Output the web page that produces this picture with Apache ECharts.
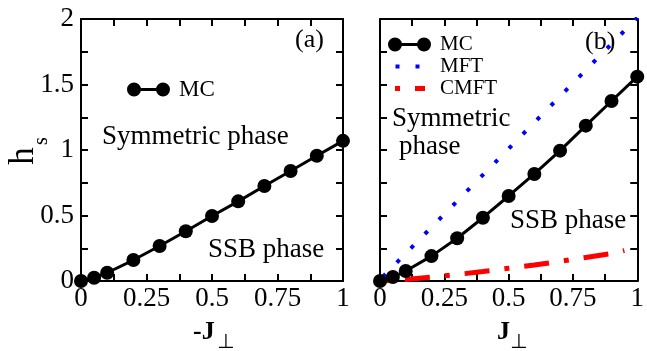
<!DOCTYPE html>
<html><head><meta charset="utf-8">
<script src="https://cdn.jsdelivr.net/npm/echarts@6/dist/echarts.min.js"></script>
<style>html,body{margin:0;padding:0;background:#fff}#c{width:647px;height:351px}</style>
</head><body><div id="c"></div>
<script>
// ---- data ----
const jA   = [0, 0.05, 0.1, 0.2, 0.3, 0.4, 0.5, 0.6, 0.7, 0.8, 0.9, 1.0];
const mcA  = [0, 0.025, 0.063, 0.16, 0.267, 0.38, 0.496, 0.608, 0.725, 0.84, 0.956, 1.07];
const jB   = [0, 0.05, 0.1, 0.2, 0.3, 0.4, 0.5, 0.6, 0.7, 0.8, 0.9, 1.0];
const mcB  = [0, 0.03, 0.076, 0.19, 0.326, 0.483, 0.649, 0.817, 0.995, 1.186, 1.374, 1.56];
const jMFT = [0, 0.1, 0.2, 0.3, 0.4, 0.5, 0.6, 0.7, 0.8, 0.9, 1.0];
const mft  = [0.01, 0.21, 0.41, 0.61, 0.81, 1.01, 1.21, 1.41, 1.61, 1.81, 2.01];
const jCMFT = [0, 0.1, 0.2, 0.3, 0.4, 0.5, 0.6, 0.7, 0.8, 0.9, 0.95];
const cmft  = [0, 0.012, 0.03, 0.05, 0.072, 0.097, 0.122, 0.15, 0.18, 0.21, 0.232];
const xTickLabels = ['0', '0.25', '0.5', '0.75', '1'];
const yTickLabels = ['0', '0.5', '1', '1.5', '2'];

const pairs = (xs, ys) => xs.map((x, i) => [x, ys[i]]);
const FONT = 'Liberation Serif';
const TICKFS = 27;

const tickCommon = {
  axisLine: {show: true, onZero: false, lineStyle: {color: '#000', width: 2}},
  axisTick: {show: true, inside: true, length: 7, lineStyle: {color: '#000', width: 2}},
  minorTick: {show: true, splitNumber: 2, length: 7, lineStyle: {color: '#000', width: 2}},
  splitLine: {show: false}, minorSplitLine: {show: false}
};
function xAx(grid, pos, labels) {
  return Object.assign({
    type: 'value', gridIndex: grid, position: pos, min: 0, max: 1, interval: 0.25,
    axisLabel: labels ? {show: true, margin: 4, fontFamily: FONT, fontSize: TICKFS, color: '#000',
      formatter: v => xTickLabels[Math.round(v / 0.25)]} : {show: false}
  }, tickCommon);
}
function yAx(grid, pos, labels) {
  return Object.assign({
    type: 'value', gridIndex: grid, position: pos, min: 0, max: 2, interval: 0.5,
    axisLabel: labels ? {show: true, margin: 7, fontFamily: FONT, fontSize: TICKFS, color: '#000',
      formatter: v => yTickLabels[Math.round(v / 0.5)]} : {show: false}
  }, tickCommon);
}

const MC_ICON = 'path://M0,0M47,14M0,7A7,7,0,1,0,14,7A7,7,0,1,0,0,7ZM29,7A7,7,0,1,0,43,7A7,7,0,1,0,29,7ZM13,5.5L13,8.5L30,8.5L30,5.5Z';
const MFT_ICON = 'path://M0,0M47,14M7.5,5H11.5V9H7.5ZM27.5,5H31.5V9H27.5Z';
const CMFT_ICON = 'path://M0,0M47,14M7,4.5H12V9.5H7ZM27,4.5H37V9.5H27Z';

const legendCommon = {
  orient: 'vertical', padding: 0, itemWidth: 47, itemHeight: 14, selectedMode: false,
  itemStyle: {borderWidth: 0, borderColor: 'transparent', borderType: 'solid'},
  lineStyle: {width: 0, type: 'solid'}
};

function txt(t, x, y, font, extra) {
  return Object.assign({type: 'text', x: x, y: y, silent: true,
    style: {text: t, font: font, fill: '#000', align: 'left', verticalAlign: 'middle'}}, extra || {});
}

const chart = echarts.init(document.getElementById('c'), null, {renderer: 'canvas'});
chart.setOption({
  animation: false,
  backgroundColor: '#fff',
  grid: [
    {left: 81, right: 304, top: 19, bottom: 70},
    {left: 380, right: 5, top: 19, bottom: 70}
  ],
  xAxis: [xAx(0, 'bottom', true), xAx(0, 'top', false), xAx(1, 'bottom', true), xAx(1, 'top', false)],
  yAxis: [yAx(0, 'left', true), yAx(0, 'right', false), yAx(1, 'left', false), yAx(1, 'right', false)],
  legend: [
    Object.assign({left: 127, top: 78, itemGap: 1,
     textStyle: {fontFamily: FONT, fontSize: 23, color: '#000'},
     data: [{name: 'MC', icon: MC_ICON}]}, legendCommon),
    Object.assign({left: 388, top: 34, itemGap: 1,
     textStyle: {fontFamily: FONT, fontSize: 21, color: '#000'},
     data: [{name: 'MC', icon: MC_ICON}, {name: 'MFT', icon: MFT_ICON}, {name: 'CMFT', icon: CMFT_ICON}]},
     legendCommon)
  ],
  series: [
    {name: 'MFT', type: 'line', xAxisIndex: 2, yAxisIndex: 2, data: pairs(jMFT, mft), symbol: 'none',
     clip: true, z: 2, itemStyle: {color: '#0000ff'},
     lineStyle: {color: '#0000ff', width: 4, type: [4, 16], dashOffset: 16, cap: 'butt'}},
    {name: 'CMFT', type: 'line', xAxisIndex: 2, yAxisIndex: 2, data: pairs(jCMFT, cmft), symbol: 'none',
     clip: true, z: 2, itemStyle: {color: '#ff0000'},
     lineStyle: {color: '#ff0000', width: 5, type: [25, 15, 5, 15], dashOffset: 35, cap: 'butt'}},
    {name: 'MC', type: 'line', xAxisIndex: 0, yAxisIndex: 0, data: pairs(jA, mcA), symbol: 'circle',
     symbolSize: 14, z: 3, clip: false, itemStyle: {color: '#000', borderWidth: 0},
     lineStyle: {color: '#000', width: 3}},
    {name: 'MC', type: 'line', xAxisIndex: 2, yAxisIndex: 2, data: pairs(jB, mcB), symbol: 'circle',
     symbolSize: 14, z: 3, clip: false, itemStyle: {color: '#000', borderWidth: 0},
     lineStyle: {color: '#000', width: 3}}
  ],
  graphic: [
    txt('(a)', 295, 40, '26px "Liberation Serif"'),
    txt('(b)', 585, 42, '26px "Liberation Serif"'),
    txt('Symmetric phase', 102, 137, '27px "Liberation Serif"'),
    txt('SSB phase', 208, 250, '27px "Liberation Serif"'),
    txt('Symmetric', 392, 119, '27px "Liberation Serif"'),
    txt('phase', 399, 147, '27px "Liberation Serif"'),
    txt('SSB phase', 510, 221, '27px "Liberation Serif"'),
    // axis titles
    txt('-J', 193, 332, 'bold 26px "Liberation Serif"'),
    txt('\u22A5', 217, 343, '20px "DejaVu Sans"'),
    txt('J', 497, 332, 'bold 26px "Liberation Serif"'),
    txt('\u22A5', 510, 343, '20px "DejaVu Sans"'),
    txt('h', 24, 156, '35px "Liberation Serif"', {rotation: Math.PI / 2, style: {text: 'h', font: '35px "Liberation Serif"', fill: '#000', align: 'center', verticalAlign: 'middle'}}),
    txt('s', 42, 141, '20px "Liberation Serif"', {rotation: Math.PI / 2, style: {text: 's', font: '20px "Liberation Serif"', fill: '#000', align: 'center', verticalAlign: 'middle'}})
  ]
});
</script>
</body></html>
